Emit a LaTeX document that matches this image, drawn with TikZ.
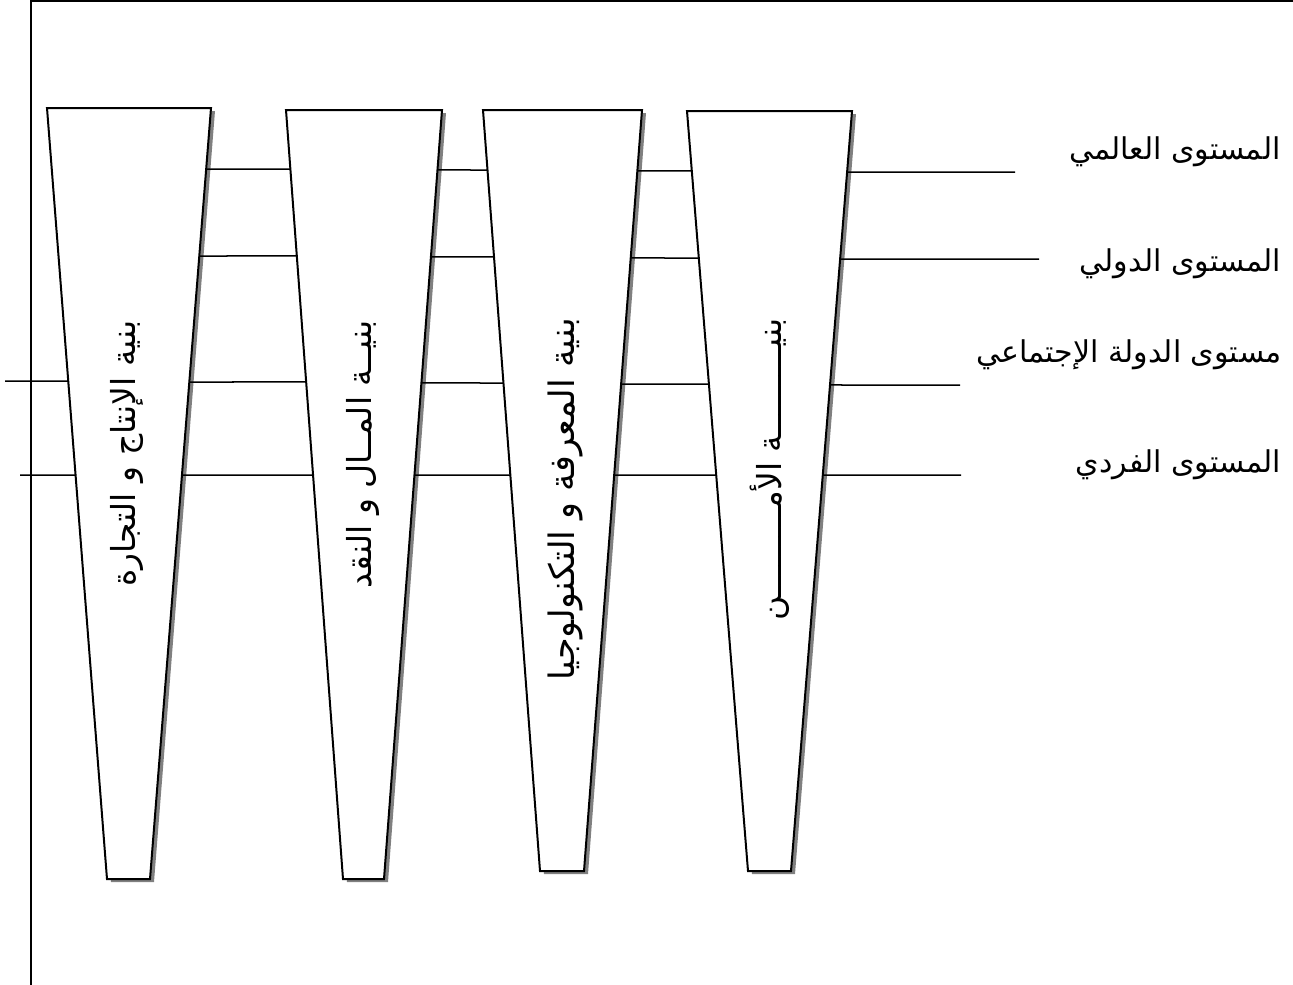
\documentclass[tikz,border=0pt]{standalone}
\usepackage{fontspec}
\usetikzlibrary{calc}
\TeXXeTstate=1
\newfontfamily\arabicfont[Script=Arabic]{DejaVu Sans}
\begin{document}
\begin{tikzpicture}[x=1pt,y=-1pt,
  trap/.style={draw=black,line width=2pt,fill=white,line join=miter},
  shad/.style={fill=black!50},
  conn/.style={draw=black,line width=1.5pt},
  frame/.style={draw=black,line width=1.3pt},
  lvl/.style={anchor=east,font=\arabicfont\fontsize{30}{34}\selectfont,inner sep=0pt},
  strc/.style={anchor=east,rotate=90,font=\arabicfont\fontsize{33}{38}\selectfont,inner sep=0pt}]
\useasboundingbox (0,0) rectangle (1293,985);
% frame
\coordinate (fbl) at (31,985);
\coordinate (ftl) at (31,1);
\coordinate (ftr) at (1293,1);
\draw[frame] (fbl) -- (ftl) -- (ftr);
% trapezoid corners
\coordinate (t1-tl) at (47,108);  \coordinate (t1-tr) at (211,108);
\coordinate (t1-br) at (150,879); \coordinate (t1-bl) at (107,879);
\coordinate (t2-tl) at (286,110); \coordinate (t2-tr) at (442,110);
\coordinate (t2-br) at (384,879); \coordinate (t2-bl) at (343,879);
\coordinate (t3-tl) at (483,110); \coordinate (t3-tr) at (642,110);
\coordinate (t3-br) at (584,871); \coordinate (t3-bl) at (540,871);
\coordinate (t4-tl) at (687,111); \coordinate (t4-tr) at (852,111);
\coordinate (t4-br) at (791,871); \coordinate (t4-bl) at (748,871);
\foreach \i in {1,...,4}{
  \fill[shad] ([shift={(4,3)}]t\i-tl) -- ([shift={(4,3)}]t\i-tr) -- ([shift={(4,3)}]t\i-br) -- ([shift={(4,3)}]t\i-bl) -- cycle;
  \draw[trap] (t\i-tl) -- (t\i-tr) -- (t\i-br) -- (t\i-bl) -- cycle;
}
% free ends
\coordinate (r1) at (1015,172);
\coordinate (r2) at (1039,259);
\coordinate (r3) at (960,385);
\coordinate (r4) at (961,475);
\coordinate (q3) at (5,381);
\coordinate (q4) at (20,475);
% row 1
\draw[conn] ($(t1-tr)!{(169-108)/771}!(t1-br)$) -- ($(t2-tl)!{(169-110)/769}!(t2-bl)$);
\draw[conn] ($(t2-tr)!{(170-110)/769}!(t2-br)$) -- ($(t3-tl)!{(170-110)/761}!(t3-bl)$);
\draw[conn] ($(t3-tr)!{(171-110)/761}!(t3-br)$) -- ($(t4-tl)!{(171-111)/760}!(t4-bl)$);
\draw[conn] ($(t4-tr)!{(172-111)/760}!(t4-br)$) -- (r1);
% row 2
\draw[conn] ($(t1-tr)!{(256-108)/771}!(t1-br)$) -- ($(t2-tl)!{(256-110)/769}!(t2-bl)$);
\draw[conn] ($(t2-tr)!{(257-110)/769}!(t2-br)$) -- ($(t3-tl)!{(257-110)/761}!(t3-bl)$);
\draw[conn] ($(t3-tr)!{(258-110)/761}!(t3-br)$) -- ($(t4-tl)!{(258-111)/760}!(t4-bl)$);
\draw[conn] ($(t4-tr)!{(259-111)/760}!(t4-br)$) -- (r2);
% row 3
\draw[conn] (q3) -- ($(t1-tl)!{(381-108)/771}!(t1-bl)$);
\draw[conn] ($(t1-tr)!{(382-108)/771}!(t1-br)$) -- ($(t2-tl)!{(382-110)/769}!(t2-bl)$);
\draw[conn] ($(t2-tr)!{(383-110)/769}!(t2-br)$) -- ($(t3-tl)!{(383-110)/761}!(t3-bl)$);
\draw[conn] ($(t3-tr)!{(384-110)/761}!(t3-br)$) -- ($(t4-tl)!{(384-111)/760}!(t4-bl)$);
\draw[conn] ($(t4-tr)!{(385-111)/760}!(t4-br)$) -- (r3);
% row 4
\draw[conn] (q4) -- ($(t1-tl)!{(475-108)/771}!(t1-bl)$);
\draw[conn] ($(t1-tr)!{(475-108)/771}!(t1-br)$) -- ($(t2-tl)!{(475-110)/769}!(t2-bl)$);
\draw[conn] ($(t2-tr)!{(475-110)/769}!(t2-br)$) -- ($(t3-tl)!{(475-110)/761}!(t3-bl)$);
\draw[conn] ($(t3-tr)!{(475-110)/761}!(t3-br)$) -- ($(t4-tl)!{(475-111)/760}!(t4-bl)$);
\draw[conn] ($(t4-tr)!{(475-111)/760}!(t4-br)$) -- (r4);
% structure labels
\node[strc] (s1) at (127,320) {\beginR بنية الإنتاج و التجارة\endR};
\node[strc] (s2) at (363,320) {\beginR بنيــة المــال و النقد\endR};
\node[strc,font=\arabicfont\fontsize{35}{40}\selectfont] (s3) at (565,318) {\beginR بنية المعرفة و التكنولوجيا\endR};
\node[strc] (s4) at (770,318) {\beginR بنيـــــــــة الأمـــــــــن\endR};
% level labels
\node[lvl] (l1) at (1281,152) {\beginR المستوى العالمي\endR};
\node[lvl] (l2) at (1281,264) {\beginR المستوى الدولي\endR};
\node[lvl] (l3) at (1282,355) {\beginR مستوى الدولة الإجتماعي\endR};
\node[lvl] (l4) at (1281,465) {\beginR المستوى الفردي\endR};
\end{tikzpicture}
\end{document}
